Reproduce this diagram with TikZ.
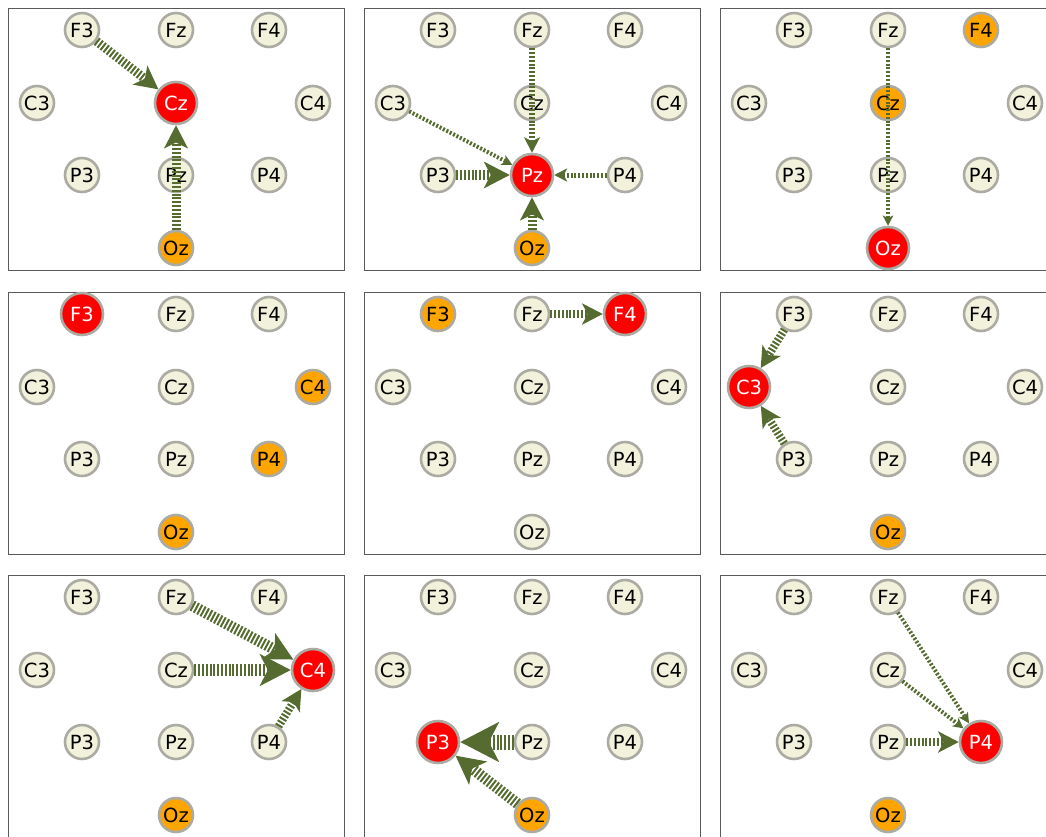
\documentclass[tikz,border=0pt]{standalone}
\usepackage{fontspec}
\setsansfont{DejaVu Sans}
\usetikzlibrary{arrows.meta}
\definecolor{EegOlive}{HTML}{556B2F}
\definecolor{EegIvory}{HTML}{F2F2DC}
\definecolor{EegRim}{HTML}{ABABA3}
\definecolor{EegOrange}{HTML}{FFA500}
\definecolor{EegRed}{HTML}{FF0000}
\definecolor{EegFrame}{HTML}{5A5A5A}
\newcommand{\electrodes}[1]{%
  \draw[panel] (0,0) rectangle (336,262);
  \foreach \n/\x/\y in {F3/74/22,Fz/168/22,F4/261/22,C3/29/95,Cz/168/95,C4/305/95,P3/74/167,Pz/168/167,P4/261/167,Oz/168/240}
    \node[st-\n] (#1-\n) at (\x,\y) {\n};
}
\tikzset{
  elec/.style={circle,draw=EegRim,line width=2.6pt,fill=EegIvory,minimum size=34pt,inner sep=0pt,font=\sffamily\fontsize{19.5}{20}\selectfont},
  seed/.style={elec,fill=EegOrange},
  target/.style={elec,fill=EegRed,text=white,minimum size=42pt},
  st-F3/.style=elec,st-Fz/.style=elec,st-F4/.style=elec,st-C3/.style=elec,st-Cz/.style=elec,
  st-C4/.style=elec,st-P3/.style=elec,st-Pz/.style=elec,st-P4/.style=elec,st-Oz/.style=elec,
  flow/.style={EegOlive,line width=#1pt,dash pattern=on 2pt off 1.8pt,
    -{Stealth[length=0pt 2.6,width=0pt 2.7,inset=0pt 0.7,line width=0pt]}},
  panel/.style={draw=EegFrame,line width=1pt}
}
\begin{document}
\begin{tikzpicture}[x=1pt,y=-1pt]
  \useasboundingbox (0,0) rectangle (1046,836);
  % row 1
  \begin{scope}[shift={(8,8)},st-Cz/.style=target,st-Oz/.style=seed]
    \electrodes{tCz}
    \draw[flow=9] (tCz-F3) -- (tCz-Cz);
    \draw[flow=9] (tCz-Oz) -- (tCz-Cz);
  \end{scope}
  \begin{scope}[shift={(364,8)},st-Pz/.style=target,st-Oz/.style=seed]
    \electrodes{tPz}
    \draw[flow=6] (tPz-Fz) -- (tPz-Pz);
    \draw[flow=4] (tPz-C3) -- (tPz-Pz);
    \draw[flow=10] (tPz-P3) -- (tPz-Pz);
    \draw[flow=5] (tPz-P4) -- (tPz-Pz);
    \draw[flow=9] (tPz-Oz) -- (tPz-Pz);
  \end{scope}
  \begin{scope}[shift={(720,8)},st-Oz/.style=target,st-F4/.style=seed,st-Cz/.style=seed]
    \electrodes{tOz}
    \draw[flow=4] (tOz-Fz) -- (tOz-Oz);
  \end{scope}
  % row 2
  \begin{scope}[shift={(8,292)},st-F3/.style=target,st-C4/.style=seed,st-P4/.style=seed,st-Oz/.style=seed]
    \electrodes{tF3}
  \end{scope}
  \begin{scope}[shift={(364,292)},st-F4/.style=target,st-F3/.style=seed]
    \electrodes{tF4}
    \draw[flow=8] (tF4-Fz) -- (tF4-F4);
  \end{scope}
  \begin{scope}[shift={(720,292)},st-C3/.style=target,st-Oz/.style=seed]
    \electrodes{tC3}
    \draw[flow=8] (tC3-F3) -- (tC3-C3);
    \draw[flow=8] (tC3-P3) -- (tC3-C3);
  \end{scope}
  % row 3
  \begin{scope}[shift={(8,575)},st-C4/.style=target,st-Oz/.style=seed]
    \electrodes{tC4}
    \draw[flow=11] (tC4-Fz) -- (tC4-C4);
    \draw[flow=12] (tC4-Cz) -- (tC4-C4);
    \draw[flow=8] (tC4-P4) -- (tC4-C4);
  \end{scope}
  \begin{scope}[shift={(364,575)},st-P3/.style=target,st-Oz/.style=seed]
    \electrodes{tP3}
    \draw[flow=15] (tP3-Pz) -- (tP3-P3);
    \draw[flow=11] (tP3-Oz) -- (tP3-P3);
  \end{scope}
  \begin{scope}[shift={(720,575)},st-P4/.style=target,st-Oz/.style=seed]
    \electrodes{tP4}
    \draw[flow=4] (tP4-Fz) -- (tP4-P4);
    \draw[flow=4] (tP4-Cz) -- (tP4-P4);
    \draw[flow=8] (tP4-Pz) -- (tP4-P4);
  \end{scope}
\end{tikzpicture}
\end{document}
